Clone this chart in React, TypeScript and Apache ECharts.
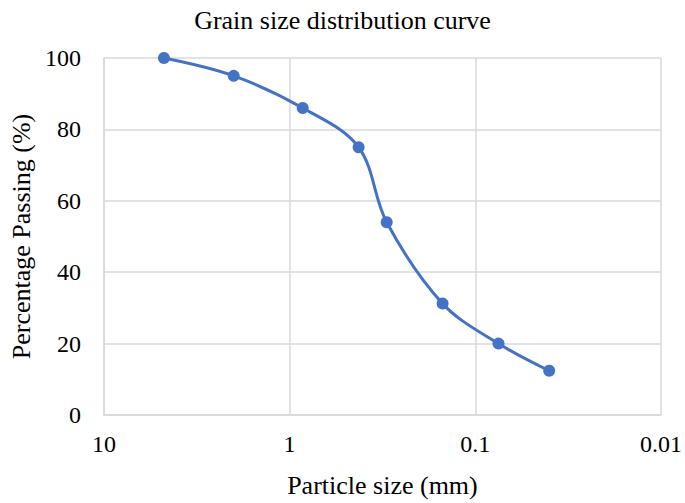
import React, { useEffect, useRef } from "react";
import * as echarts from "echarts";

const particleSizes = [4.75, 2.0, 0.85, 0.425, 0.3, 0.15, 0.075, 0.04];
const percentPassing = [100, 95, 86, 75, 54, 31.2, 20, 12.4];
const xTicks = [10, 1, 0.1, 0.01];

const FONT = "'Liberation Serif', 'Times New Roman', serif";
const GRID = "#d9d9d9";

export default function App() {
  const ref = useRef<HTMLDivElement>(null);
  useEffect(() => {
    if (!ref.current) return;
    const chart = echarts.init(ref.current, null, { renderer: "svg" });
    chart.setOption({
      animation: false,
      backgroundColor: "#ffffff",
      title: {
        text: "Grain size distribution curve",
        left: "center",
        top: 2,
        textStyle: { fontFamily: FONT, fontSize: 26, fontWeight: "normal", color: "#000" },
      },
      grid: { left: 95, right: 22, top: 58, bottom: 86 },
      xAxis: {
        type: "log",
        logBase: 10,
        min: 0.01,
        max: 10,
        inverse: true,
        name: "Particle size (mm)",
        nameLocation: "middle",
        nameGap: 57,
        nameTextStyle: { fontFamily: FONT, fontSize: 26, color: "#000" },
        axisLine: { show: true, lineStyle: { color: GRID, width: 1.5 } },
        axisTick: { show: false },
        splitLine: { show: true, lineStyle: { color: GRID, width: 1.5 } },
        axisLabel: {
          fontFamily: FONT,
          fontSize: 24,
          color: "#000",
          margin: 17,
          formatter: (v: number) => {
            const t = xTicks.find((k) => Math.abs(k - v) / k < 1e-6);
            return t !== undefined ? String(t) : "";
          },
        },
      },
      yAxis: {
        type: "value",
        min: 0,
        max: 100,
        interval: 20,
        name: "Percentage Passing (%)",
        nameLocation: "middle",
        nameGap: 68,
        nameTextStyle: { fontFamily: FONT, fontSize: 26, color: "#000" },
        axisLine: { show: true, lineStyle: { color: GRID, width: 1.5 } },
        axisTick: { show: false },
        splitLine: { show: true, lineStyle: { color: GRID, width: 1.5 } },
        axisLabel: { fontFamily: FONT, fontSize: 24, color: "#000", margin: 23 },
      },
      series: [
        {
          type: "line",
          data: particleSizes.map((s, i) => [s, percentPassing[i]]),
          smooth: 0.35,
          symbol: "circle",
          symbolSize: 12,
          lineStyle: { color: "#4472C4", width: 3 },
          itemStyle: { color: "#4472C4" },
        },
      ],
    });
    return () => chart.dispose();
  }, []);
  return <div ref={ref} style={{ width: 685, height: 503, position: "absolute", left: 0, top: 0 }} />;
}
